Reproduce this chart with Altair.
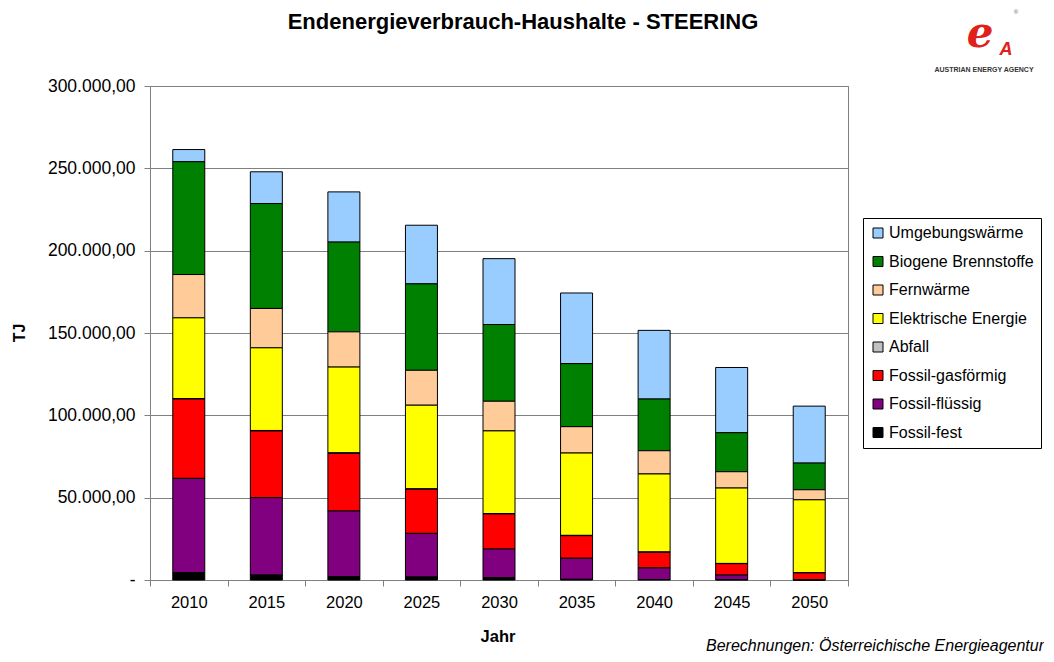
import altair as alt
import pandas as pd

years = ["2010", "2015", "2020", "2025", "2030", "2035", "2040", "2045", "2050"]

# series (TJ), stacked bottom -> top
fossil_fest = [4450, 3000, 2000, 1800, 1400, 400, 300, 200, 0]
fossil_fluessig = [57250, 47000, 39900, 26500, 17400, 12800, 7000, 2800, 200]
fossil_gas = [48200, 40500, 35000, 26800, 21300, 13700, 9500, 6900, 4100]
abfall = [300, 300, 300, 250, 250, 200, 200, 150, 100]
elektrisch = [49000, 50200, 52100, 50800, 50200, 50000, 47400, 45800, 44300]
fernwaerme = [26300, 23900, 21400, 21200, 18000, 16000, 14100, 9900, 6100]
biogen = [68500, 63700, 54500, 52500, 46600, 38300, 31400, 23700, 16200]
umgebung = [7400, 19300, 30500, 35600, 40000, 42900, 41700, 39600, 34600]

series_names = ["Umgebungswärme", "Biogene Brennstoffe", "Fernwärme", "Elektrische Energie",
                "Abfall", "Fossil-gasförmig", "Fossil-flüssig", "Fossil-fest"]
series_colors = ["#99CCFF", "#008000", "#FFCC99", "#FFFF00", "#C0C0C0", "#FF0000", "#800080", "#000000"]
series_values = [umgebung, biogen, fernwaerme, elektrisch, abfall, fossil_gas, fossil_fluessig, fossil_fest]

y_ticks = [0, 50000, 100000, 150000, 200000, 250000, 300000]

rows = []
for s_idx, (name, vals) in enumerate(zip(series_names, series_values)):
    for y, v in zip(years, vals):
        rows.append({"Jahr": y, "Quelle": name, "TJ": v, "ord": len(series_names) - s_idx})
df = pd.DataFrame(rows)

W, H = 698, 494

bars = alt.Chart(df).mark_bar(size=32, stroke="black", strokeWidth=1, opacity=1).encode(
    x=alt.X("Jahr:N", sort=years, title=None,
            scale=alt.Scale(paddingInner=0, paddingOuter=0),
            axis=alt.Axis(labelAngle=0, labelFontSize=16.5, labelFont="Liberation Sans",
                          labelColor="#000000", labelPadding=8, tickBand="extent",
                          tickSize=6, tickColor="#808080", domainColor="#808080",
                          grid=False)),
    y=alt.Y("TJ:Q", stack="zero", title=None,
            scale=alt.Scale(domain=[0, 300000], nice=False),
            axis=alt.Axis(values=y_ticks, labelFontSize=17.5, labelFont="Liberation Sans",
                          labelColor="#000000", labelPadding=9, tickSize=6,
                          tickColor="#808080", domainColor="#808080",
                          gridColor="#808080", gridWidth=1,
                          labelExpr="datum.value == 0 ? '-' : format(datum.value/1000, 'd') + '.000,00'")),
    color=alt.Color("Quelle:N",
                    scale=alt.Scale(domain=series_names, range=series_colors),
                    legend=alt.Legend(title=None, orient="none", legendX=713, legendY=132,
                                      strokeColor="#000000", fillColor="#FFFFFF", padding=7,
                                      symbolType="square", symbolSize=100,
                                      symbolStrokeColor="#000000", symbolStrokeWidth=1,
                                      symbolOpacity=1,
                                      labelFontSize=16, labelFont="Liberation Sans",
                                      labelColor="#000000", rowPadding=12.5, labelOffset=3,
                                      labelLimit=300)),
    order=alt.Order("ord:Q", sort="ascending"),
)

def txt(t, x, y, size, font="Liberation Sans", **kw):
    return alt.Chart(pd.DataFrame({"t": [t]})).mark_text(
        fontSize=size, font=font, **kw
    ).encode(text="t:N", x=alt.value(x), y=alt.value(y))

title = txt("Endenergieverbrauch-Haushalte - STEERING", 373, -64, 22, fontWeight="bold", align="center", color="#000000")
ytitle = txt("TJ", -130, 247, 16, fontWeight="bold", align="center", angle=270, color="#000000")
xtitle = txt("Jahr", 348, 551, 16.5, fontWeight="bold", align="center", color="#000000")
source = txt("Berechnungen: Österreichische Energieagentur", 894, 560, 16, fontStyle="italic", align="right", color="#000000")
logo_e = txt("e", 830, -52, 42, font="DejaVu Serif", fontWeight="bold", fontStyle="italic", align="center", color="#E0201B")
logo_a = txt("A", 856, -36, 18, fontWeight="bold", fontStyle="italic", align="center", color="#E0201B")
logo_txt = txt("AUSTRIAN ENERGY AGENCY", 834, -16, 7, fontWeight="bold", align="center", color="#333333")
logo_r = txt("®", 866, -74, 6, align="center", color="#666666")

chart = alt.layer(bars, title, ytitle, xtitle, source, logo_e, logo_a, logo_txt, logo_r).properties(
    width=W, height=H,
    autosize=alt.AutoSizeParams(type="none"),
    padding={"left": 142, "top": 78, "right": 196, "bottom": 74},
    background="#FFFFFF",
).configure_view(stroke="#808080", strokeWidth=1).configure_axis(gridOpacity=1)

chart.save("out.html", embed_options={"renderer": "svg", "actions": False})
